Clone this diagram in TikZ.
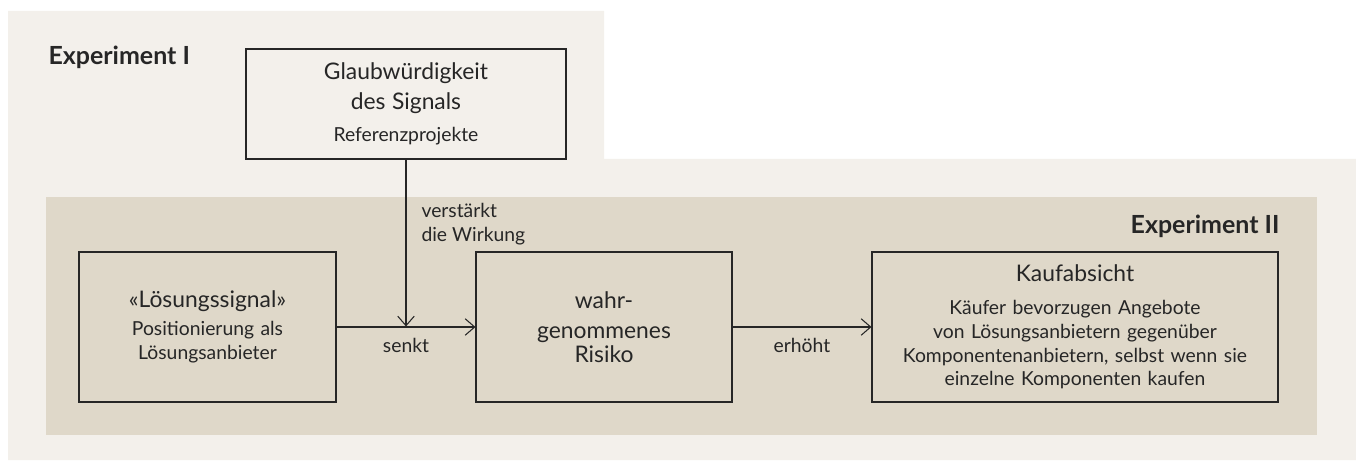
\documentclass[tikz,border=0pt]{standalone}
\usepackage{fontspec}
\setmainfont{Lato}
\usetikzlibrary{%
  arrows.meta,%
  positioning,% wg. " of "
  calc%
}
\definecolor{bgLight}{HTML}{F3F0EB}
\definecolor{bgDark}{HTML}{DFD8C9}
\definecolor{inkGray}{HTML}{262626}
\newcommand{\ttlsize}{\fontsize{13}{17}\selectfont}
\newcommand{\bdysize}{\fontsize{11}{13.5}\selectfont}

\begin{document}
\begin{tikzpicture}[
  font=\bdysize,
  >={Straight Barb[length=1.9mm,width=3.3mm]},
  line width=0.6pt,
  factor/.style={rectangle, draw=inkGray, text=inkGray, inner sep=0pt, align=center, minimum height=3cm},
  exlabel/.style={font=\fontsize{14.2}{16}\selectfont\bfseries, text=inkGray, inner sep=0pt},
  effect/.style={font=\bdysize, text=inkGray, inner sep=0pt}
]
\useasboundingbox (0,0) rectangle (27.12,9.2);

% panels
\fill[bgLight] (0.16,8.98) -- (12.08,8.98) -- (12.08,6.02) -- (27.12,6.02) -- (27.12,0) -- (0.16,0) -- cycle;
\fill[bgDark] (0.92,0.5) rectangle (26.34,5.26);

\node[exlabel, anchor=base west] (exI) at (0.96,7.9) {Experiment I};
\node[exlabel, anchor=base east] (exII) at (25.6,4.54) {Experiment II};

\node[factor, text width=6.2cm, minimum width=6.4cm, minimum height=2.2cm] (cred) at (8.12,7.12)
  {\ttlsize Glaubwürdigkeit\\des Signals\par\vspace{1.6mm}\bdysize Referenzprojekte};
\node[factor, text width=5cm, minimum width=5.14cm] (sig) at (4.15,2.66)
  {\ttlsize «Lösungssignal»\par\vspace{0.9mm}\bdysize Positionierung als\\Lösungsanbieter};
\node[factor, text width=5cm, minimum width=5.12cm] (risk) at (12.08,2.66)
  {\ttlsize wahr-\\genommenes\\Risiko};
\node[factor, text width=7.9cm, minimum width=8.12cm] (buy) at (21.5,2.66)
  {\ttlsize Kaufabsicht\par\vspace{1.9mm}\bdysize Käufer bevorzugen Angebote\\von Lösungsanbietern gegenüber\\Komponentenanbietern, selbst wenn sie\\einzelne Komponenten kaufen};

\draw[->, draw=inkGray] (sig) -- coordinate[pos=0.5] (hit) node[effect, below=2.2mm] (lower) {senkt} (risk);
\draw[->, draw=inkGray] (risk) -- node[effect, below=2.2mm] (raise) {erhöht} (buy);
\draw[->, draw=inkGray, shorten >=0.3pt] (cred.south) -- (cred.south |- hit);

\node[effect, align=left, anchor=north west] (boost) at (8.42,5.14) {verstärkt\\die Wirkung};

\end{tikzpicture}
\end{document}
